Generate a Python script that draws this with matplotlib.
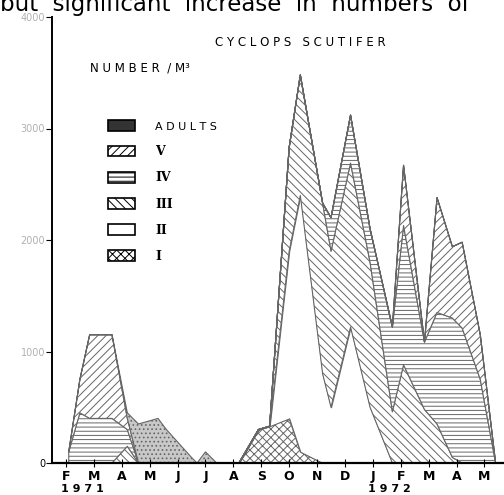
import matplotlib.pyplot as plt
import numpy as np
from matplotlib.patches import Patch

plt.rcParams['hatch.linewidth'] = 0.7
plt.rcParams['hatch.color'] = '#555555'

# sample times in months (0 = Feb 1971 ... 15 = May 1972)
months = [0.1, 0.5, 0.85, 1.65, 2.2, 2.6, 3.3, 3.6, 4.5, 4.7, 5.0, 5.4, 6.2, 6.9, 7.3,
          8.0, 8.4, 9.2, 9.5, 10.2, 10.9, 11.7, 12.1, 12.85, 13.3, 13.85, 14.2, 14.85, 15.4]

stage_I = [0, 0, 0, 0, 0, 0, 0, 0, 0, 0, 0, 0, 0, 300, 330,
           400, 100, 0, 0, 0, 0, 0, 0, 0, 0, 0, 0, 0, 0]
stage_II = [0, 0, 0, 0, 0, 0, 0, 0, 0, 0, 0, 0, 0, 0, 0,
            1500, 2300, 800, 500, 1220, 500, 0, 0, 0, 0, 0, 0, 0, 0]
stage_III = [0, 0, 0, 0, 150, 0, 0, 0, 0, 0, 0, 0, 0, 0, 0,
             930, 1080, 1530, 1400, 1470, 1300, 460, 880, 480, 350, 50, 0, 0, 0]
stage_IV = [100, 450, 400, 400, 150, 0, 0, 0, 0, 0, 0, 0, 0, 0, 0,
            0, 0, 0, 300, 430, 300, 760, 1250, 605, 1000, 1250, 1210, 750, 0]
stage_V = [0, 300, 750, 750, 100, 0, 0, 0, 0, 0, 0, 0, 0, 0, 0,
           0, 0, 0, 0, 0, 0, 0, 540, 0, 1030, 640, 770, 400, 0]
adults = [0, 0, 0, 0, 50, 350, 400, 300, 50, 0, 100, 0, 0, 0, 0,
          0, 0, 0, 0, 0, 0, 0, 0, 0, 0, 0, 0, 0, 0]

month_labels = ['F', 'M', 'A', 'M', 'J', 'J', 'A', 'S', 'O', 'N', 'D', 'J', 'F', 'M', 'A', 'M']
yticks = [0, 1000, 2000, 3000, 4000]

layers = [stage_I, stage_II, stage_III, stage_IV, stage_V, adults]
hatches = ['xxxx', None, '\\\\\\\\', '----', '////', '....']
fills = ['white', 'white', 'white', 'white', 'white', '#c8c8c8']
names = ['I', 'II', 'III', 'IV', 'V', 'ADULTS']

fig = plt.figure(figsize=(5.04, 4.95), dpi=100)
fig.text(0.0, 1 - 11 / 495, "but  significant  increase  in  numbers  of",
         fontsize=16.5, va='baseline', ha='left')

ax = fig.add_axes([52 / 504, 32 / 495, 452 / 504, 446 / 495])

x = np.array(months)
base = np.zeros(len(x))
for vals, h, fc in zip(layers, hatches, fills):
    top = base + np.array(vals)
    ax.fill_between(x, base, top, facecolor=fc, edgecolor='#666666',
                    hatch=h, lw=0.8)
    base = top

ax.set_xlim(-0.5, 15.7)
ax.set_ylim(0, 4000)
for s in ['top', 'right']:
    ax.spines[s].set_visible(False)
ax.spines['left'].set_linewidth(1.4)
ax.spines['bottom'].set_linewidth(1.6)

ax.set_xticks(range(len(month_labels)))
ax.set_xticklabels(month_labels, fontsize=9, fontweight='bold')
ax.tick_params(axis='x', direction='inout', length=6, pad=2)
ax.set_yticks(yticks)
ax.set_yticklabels([str(v) for v in yticks], fontsize=7)
ax.tick_params(axis='y', direction='out', length=4, pad=1)
for lab in ax.get_yticklabels()[1:]:
    lab.set_color('#b0b0b0')

ax.text(0.6, -0.058, '1 9 7 1', transform=ax.get_xaxis_transform(),
        ha='center', va='center', fontsize=8, fontweight='bold')
ax.text(11.6, -0.058, '1 9 7 2', transform=ax.get_xaxis_transform(),
        ha='center', va='center', fontsize=8, fontweight='bold')

ax.text(0.549, 0.942, 'C Y C L O P S   S C U T I F E R', transform=ax.transAxes,
        ha='center', va='center', fontsize=8.5)
ax.text(0.195, 0.886, 'N U M B E R  / M³', transform=ax.transAxes,
        ha='center', va='center', fontsize=8.5)

handles = []
for h, fc, n in zip(hatches[::-1], fills[::-1], names[::-1]):
    if n == 'ADULTS':
        handles.append(Patch(facecolor='#333333', edgecolor='black', lw=1.2))
    else:
        handles.append(Patch(facecolor='white', edgecolor='black', hatch=h, lw=1.2))
leg = ax.legend(handles, names[::-1], loc='upper left', bbox_to_anchor=(0.124, 0.768),
                frameon=False, fontsize=9, handlelength=2.15, handleheight=0.95,
                labelspacing=1.05, handletextpad=1.6, borderpad=0, borderaxespad=0)
leg.get_texts()[0].set_text('A D U L T S')
leg.get_texts()[0].set_fontsize(8)
for t in leg.get_texts()[1:]:
    t.set_family('DejaVu Serif')
    t.set_fontweight('bold')

fig.savefig('out.png', dpi=100)
